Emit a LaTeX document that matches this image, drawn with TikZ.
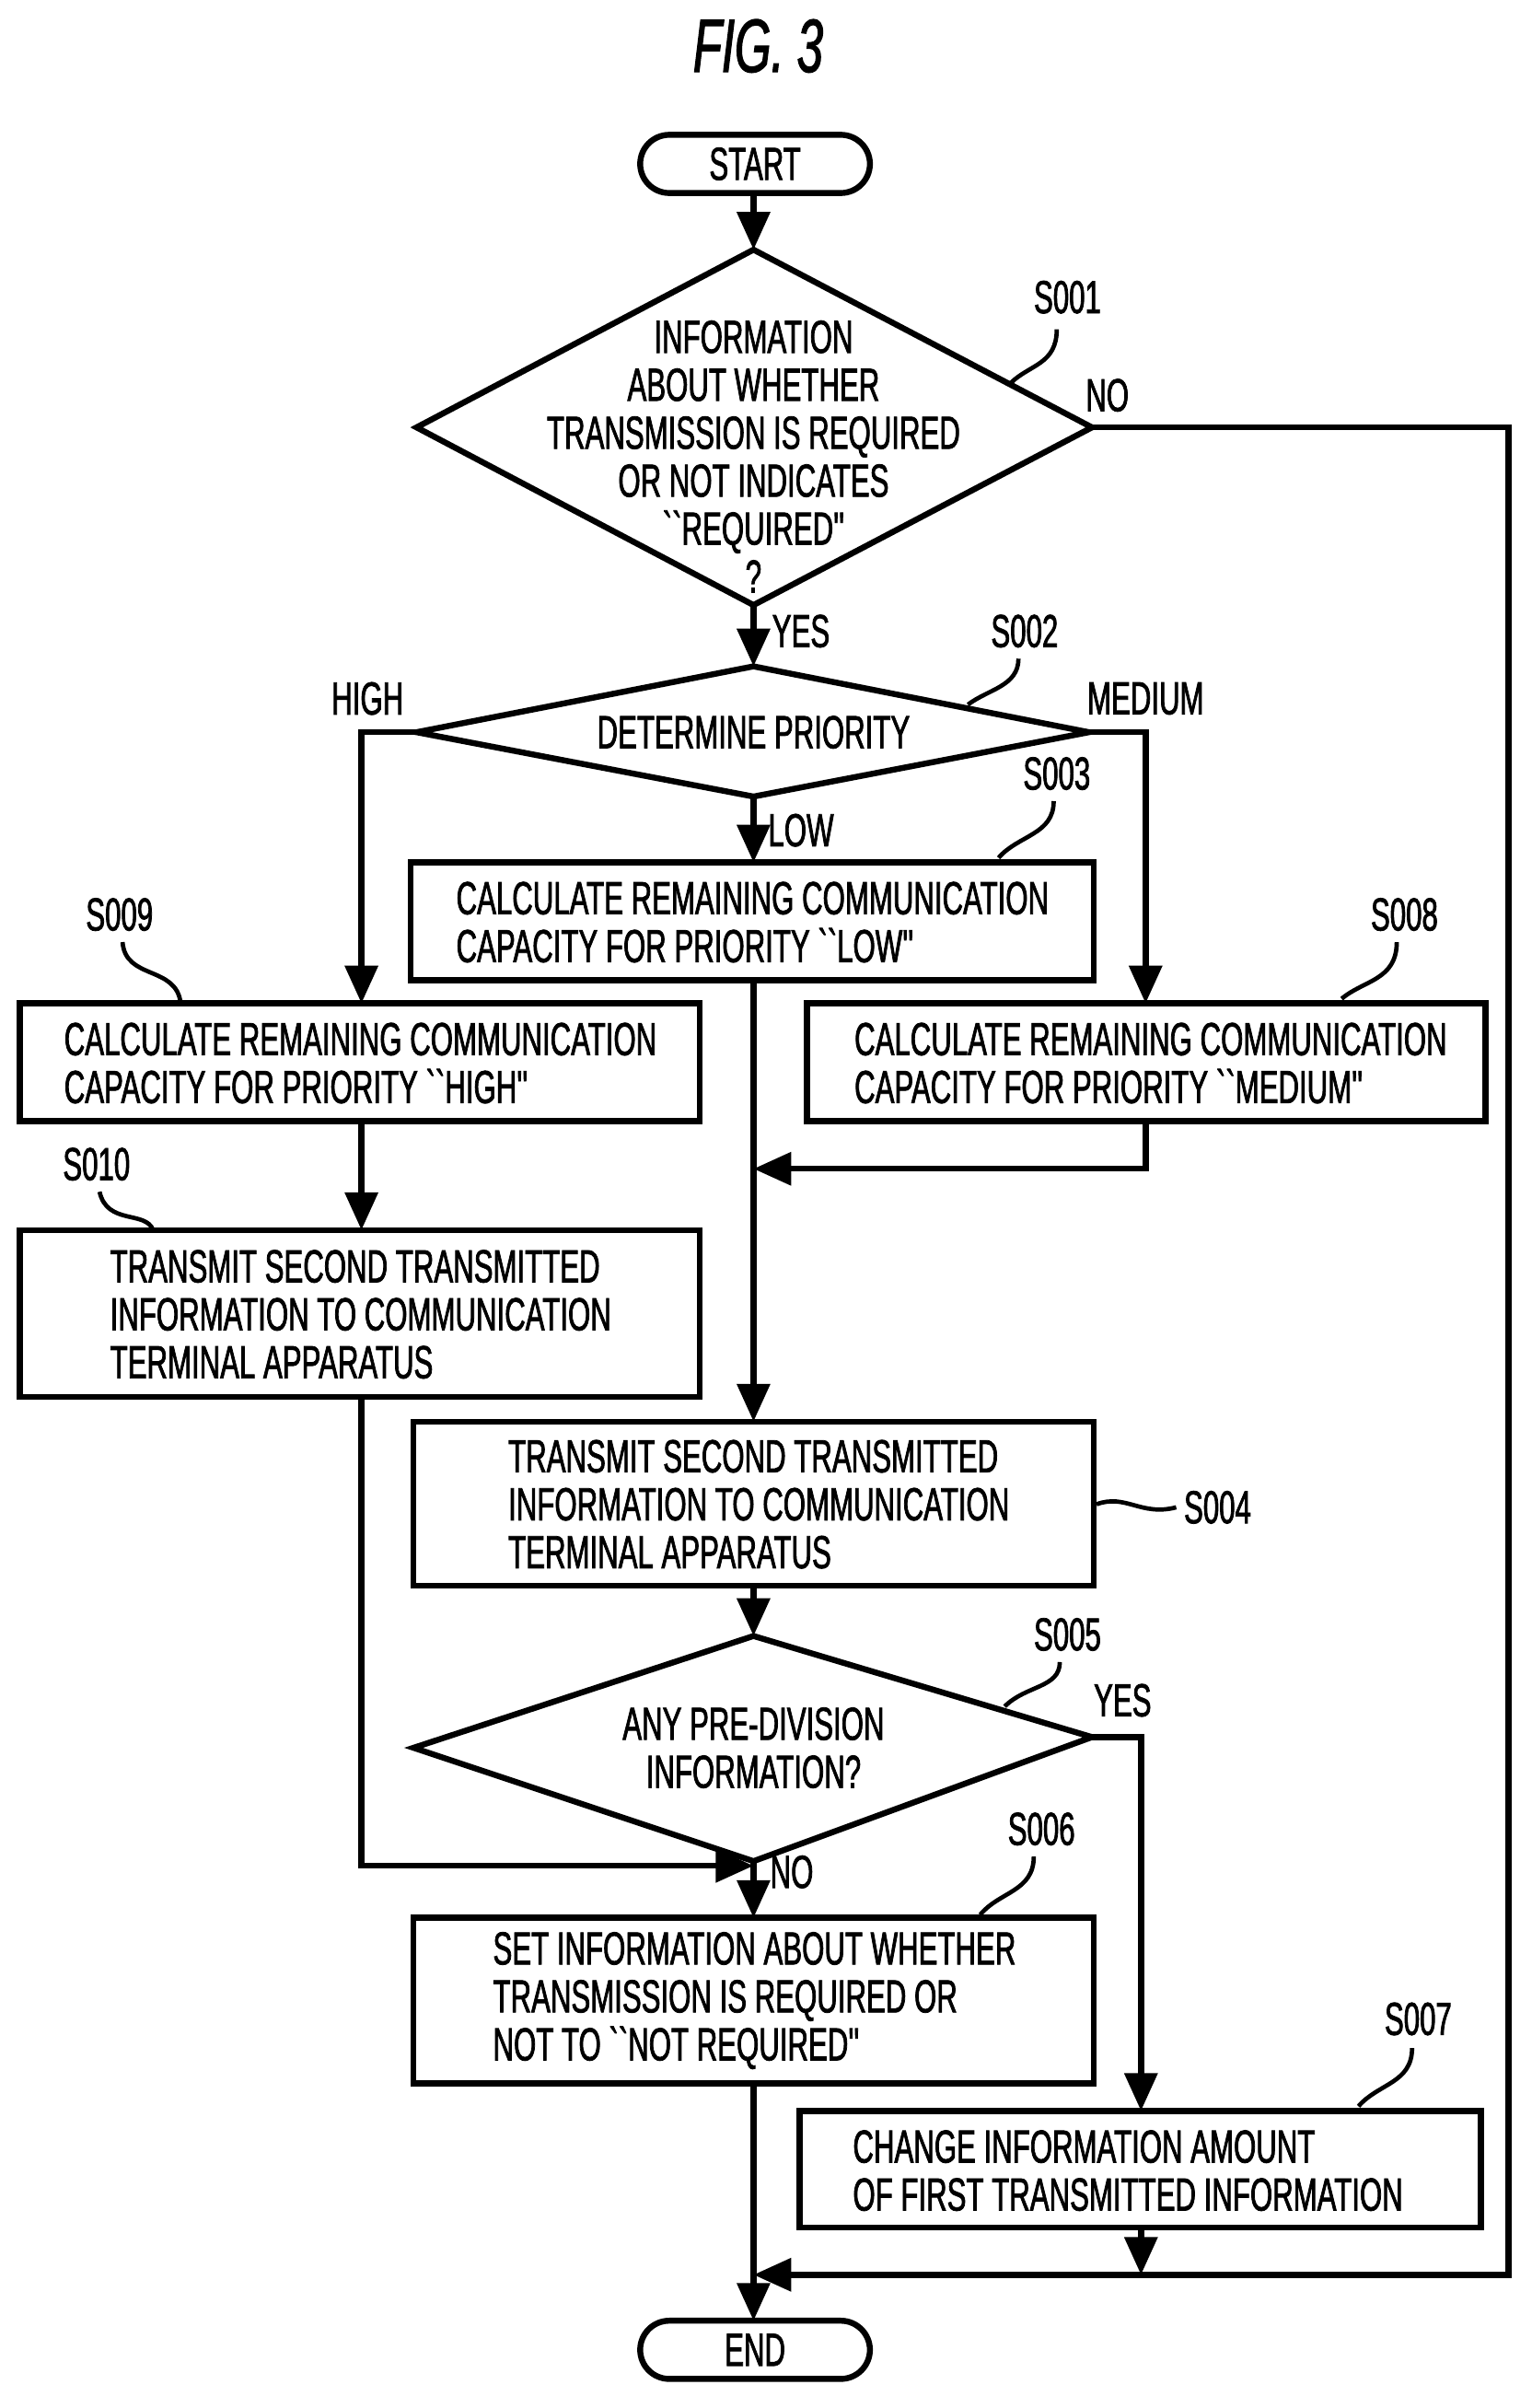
\documentclass[tikz,border=0pt]{standalone}
\usepackage{fontspec}
\newfontfamily\cf[FakeStretch=0.62,FakeBold=1.5]{Liberation Sans}
\usetikzlibrary{arrows.meta}
\begin{document}
\begin{tikzpicture}[x=0.01cm,y=-0.01cm,
  line width=1.1pt,
  >={Triangle[length=7pt,width=6pt]},
  txt/.style={font=\cf\fontsize{8.6}{8.9}\selectfont,align=left,inner sep=0pt},
  lbl/.style={font=\cf\fontsize{8.6}{8.9}\selectfont,inner sep=0pt},
  box/.style={draw,line width=1.1pt}]
\useasboundingbox (0,0) rectangle (1000,1572);
\node[font=\itshape\sffamily\fontsize{13}{14}\selectfont] (title) at (495,30) {\cf\fontsize{14}{14}\selectfont\itshape FIG. 3};
% terminals
\draw[box,rounded corners=0.19cm] (418,88) rectangle (568,126);
\node[lbl] (start) at (493,107) {START};
\draw[box,rounded corners=0.19cm] (418,1515) rectangle (568,1553);
\node[lbl] (end) at (493,1534) {END};
% diamonds
\coordinate (d1t) at (492,163); \coordinate (d1b) at (492,395);
\coordinate (d1l) at (272,279); \coordinate (d1r) at (713,279);
\draw[line join=miter] (d1t)--(d1r)--(d1b)--(d1l)--cycle;
\node[lbl,align=center] (s001) at (492,298) {INFORMATION\\ABOUT WHETHER\\TRANSMISSION IS REQUIRED\\OR NOT INDICATES\\``REQUIRED''\\?};
\coordinate (d2t) at (492,435); \coordinate (d2b) at (492,520);
\coordinate (d2l) at (272,478); \coordinate (d2r) at (711,478);
\draw (d2t)--(d2r)--(d2b)--(d2l)--cycle;
\node[lbl] (s002) at (492,478) {DETERMINE PRIORITY};
\coordinate (d5t) at (492,1068); \coordinate (d5b) at (492,1215);
\coordinate (d5l) at (270,1141); \coordinate (d5r) at (713,1134);
\draw (d5t)--(d5r)--(d5b)--(d5l)--cycle;
\node[lbl,align=center] (s005) at (492,1141) {ANY PRE-DIVISION\\INFORMATION?};
% boxes
\draw[box] (268,563) rectangle (714,640); \coordinate (b3t) at (492,563); \coordinate (b3b) at (492,640);
\node[txt,anchor=west] (t3) at (296,602) {CALCULATE REMAINING COMMUNICATION\\CAPACITY FOR PRIORITY ``LOW''};
\draw[box] (13,655) rectangle (457,732); \coordinate (b9t) at (236,655); \coordinate (b9b) at (236,732);
\node[txt,anchor=west] (t9) at (40,694) {CALCULATE REMAINING COMMUNICATION\\CAPACITY FOR PRIORITY ``HIGH''};
\draw[box] (527,655) rectangle (970,732); \coordinate (b8t) at (748,655); \coordinate (b8b) at (748,732);
\node[txt,anchor=west] (t8) at (556,694) {CALCULATE REMAINING COMMUNICATION\\CAPACITY FOR PRIORITY ``MEDIUM''};
\draw[box] (13,803) rectangle (457,912); \coordinate (b10t) at (236,803); \coordinate (b10b) at (236,912);
\node[txt,anchor=west] (t10) at (70,858) {TRANSMIT SECOND TRANSMITTED\\INFORMATION TO COMMUNICATION\\TERMINAL APPARATUS};
\draw[box] (270,928) rectangle (714,1035); \coordinate (b4t) at (492,928); \coordinate (b4b) at (492,1035);
\node[txt,anchor=west] (t4) at (330,982) {TRANSMIT SECOND TRANSMITTED\\INFORMATION TO COMMUNICATION\\TERMINAL APPARATUS};
\draw[box] (270,1252) rectangle (714,1360); \coordinate (b6t) at (492,1252); \coordinate (b6b) at (492,1360);
\node[txt,anchor=west] (t6) at (320,1306) {SET INFORMATION ABOUT WHETHER\\TRANSMISSION IS REQUIRED OR\\NOT TO ``NOT REQUIRED''};
\draw[box] (522,1378) rectangle (967,1454); \coordinate (b7t) at (745,1378); \coordinate (b7b) at (745,1454);
\node[txt,anchor=west] (t7) at (555,1417) {CHANGE INFORMATION AMOUNT\\OF FIRST TRANSMITTED INFORMATION};
% connectors
\coordinate (sb) at (492,126); \coordinate (et) at (492,1515);
\draw[->] (sb)--(d1t);
\draw[->] (d1b)--(d2t);
\draw[->] (d2l)-|(b9t);
\draw[->] (d2r)-|(b8t);
\draw[->] (d2b)--(b3t);
\draw[->] (b3b)--(b4t);
\coordinate (m8) at (492,763);
\draw[->] (b8b)|-(m8);
\draw[->] (b9b)--(b10t);
\coordinate (m10) at (492,1218);
\draw[->] (b10b)|-(m10);
\draw[->] (b4b)--(d5t);
\draw[->] (d5b)--(b6t);
\draw[->] (d5r)-|(b7t);
\draw[->] (b6b)--(et);
\coordinate (m1) at (492,1485); \coordinate (m7) at (745,1485);
\draw[->] (d1r)-|(985,1485)--(m1);
\draw[->] (b7b)--(m7);
% branch labels
\node[lbl] (yes1) at (523,412) {YES};
\node[lbl] (no1) at (723,258) {NO};
\node[lbl] (high) at (240,456) {HIGH};
\node[lbl] (med) at (748,456) {MEDIUM};
\node[lbl] (low) at (523,542) {LOW};
\node[lbl] (yes5) at (733,1110) {YES};
\node[lbl] (no5) at (517,1222) {NO};
% step labels
\node[lbl] (l1) at (697,194) {S001};
\draw[line width=0.8pt] (660,250) .. controls (672,238) and (690,238) .. (690,215);
\node[lbl] (l2) at (669,412) {S002};
\draw[line width=0.8pt] (632,460) .. controls (645,450) and (665,448) .. (665,430);
\node[lbl] (l3) at (690,505) {S003};
\draw[line width=0.8pt] (652,560) .. controls (665,545) and (688,545) .. (688,523);
\node[lbl] (l9) at (78,597) {S009};
\draw[line width=0.8pt] (80,615) .. controls (82,640) and (115,630) .. (118,655);
\node[lbl] (l8) at (917,597) {S008};
\draw[line width=0.8pt] (876,652) .. controls (890,640) and (912,640) .. (912,615);
\node[lbl] (l10) at (63,760) {S010};
\draw[line width=0.8pt] (65,778) .. controls (70,800) and (95,790) .. (100,803);
\node[lbl] (l4) at (795,984) {S004};
\draw[line width=0.8pt] (716,982) .. controls (735,975) and (745,990) .. (768,984);
\node[lbl] (l5) at (697,1067) {S005};
\draw[line width=0.8pt] (656,1114) .. controls (670,1100) and (692,1102) .. (692,1085);
\node[lbl] (l6) at (680,1194) {S006};
\draw[line width=0.8pt] (640,1250) .. controls (652,1235) and (675,1235) .. (675,1212);
\node[lbl] (l7) at (926,1318) {S007};
\draw[line width=0.8pt] (887,1375) .. controls (900,1360) and (922,1360) .. (922,1337);
\end{tikzpicture}
\end{document}
